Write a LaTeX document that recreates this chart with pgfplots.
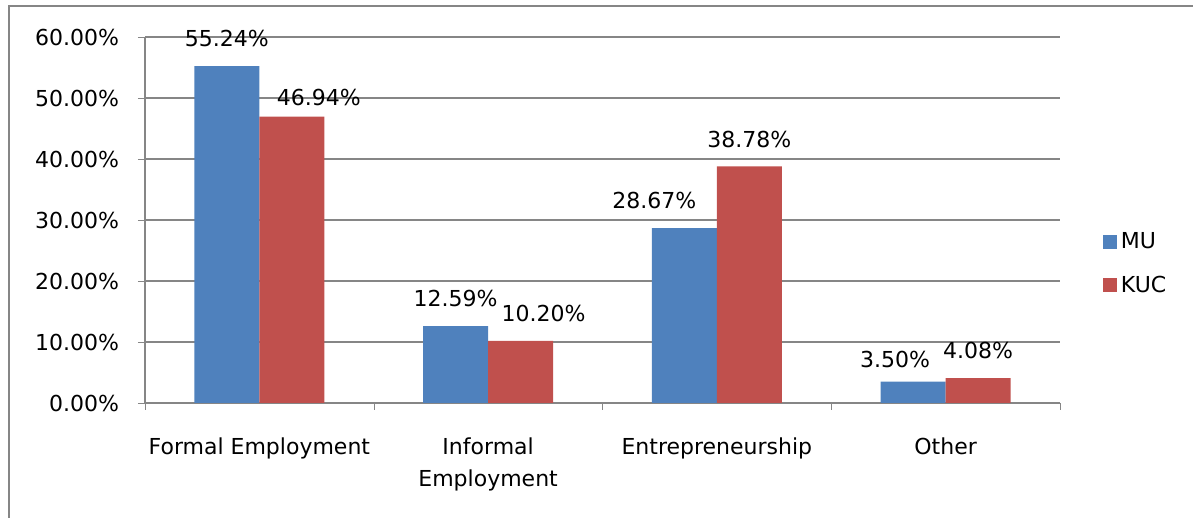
\documentclass[border=0pt]{standalone}
\usepackage{pgfplots}
\pgfplotsset{compat=1.18}
\usepackage{fontspec}
\setmainfont{DejaVu Sans}

\definecolor{mublue}{HTML}{4F81BD}
\definecolor{kucred}{HTML}{C0504D}
\definecolor{gridgray}{HTML}{868686}

% x y, then label offsets (bp)
\pgfplotstableread{
x y dx dy
0 55.24 0 6
1 12.59 0 6
2 28.67 -15 6
3 3.50 -9 3.5
}\mudata
\pgfplotstableread{
x y dx dy
0 46.94 13.5 2
1 10.20 11.5 6
2 38.78 0 6
3 4.08 0 6
}\kucdata

\begin{document}
\begin{tikzpicture}
\path[use as bounding box] (0,0) rectangle (596.5bp,259bp);
\draw[gridgray, line width=1.2bp] (4.5bp,0) -- (4.5bp,256bp) -- (596.5bp,256bp);

\begin{axis}[
    at={(72.5bp,57.5bp)}, anchor=south west,
    scale only axis,
    width=457.5bp, height=183bp,
    ybar=0pt, bar width=32.5bp,
    xmin=-0.5, xmax=3.5,
    ymin=0, ymax=60,
    ytick={0,10,...,60},
    yticklabel={\pgfmathprintnumber[fixed,fixed zerofill,precision=2]{\tick}\%},
    /pgf/number format/assume math mode=true,
    xtick={0,1,2,3},
    xticklabels={Formal Employment,{Informal\\Employment},Entrepreneurship,Other},
    xticklabel style={align=center, yshift=-10.5bp},
    yticklabel style={xshift=-6bp},
    minor xtick={-0.5,0.5,1.5,2.5,3.5},
    major x tick style={draw=none},
    minor x tick style={gridgray},
    y tick style={gridgray},
    tick align=outside,
    major tick length=3.5bp, minor tick length=3.5bp,
    ymajorgrids, grid style={gridgray, line width=0.6bp},
    axis x line*=bottom, axis y line*=left,
    axis line style={gridgray, line width=0.6bp, -},
    tick label style={font=\fontsize{11bp}{16bp}\selectfont},
    legend style={at={(1.04,0.38)}, anchor=west, draw=none, fill=none,
        font=\fontsize{11bp}{12bp}\selectfont, row sep=8bp,
        legend cell align=left},
    legend image code/.code={\fill[#1] (0bp,-3.5bp) rectangle (7bp,3.5bp);},
]
\pgfplotsset{
    every axis plot/.append style={
        visualization depends on={\thisrow{dx} \as \mydx},
        visualization depends on={\thisrow{dy} \as \mydy},
        nodes near coords={\pgfmathprintnumber[fixed,fixed zerofill,precision=2]{\pgfplotspointmeta}\%},
        every node near coord/.append style={font=\fontsize{11bp}{12bp}\selectfont, black,
            xshift=\mydx bp, yshift=\mydy bp},
    },
}
\addplot[fill=mublue, draw=none] table[x=x, y=y] {\mudata};
\addplot[fill=kucred, draw=none] table[x=x, y=y] {\kucdata};
\legend{MU,KUC}
\end{axis}
\end{tikzpicture}
\end{document}
